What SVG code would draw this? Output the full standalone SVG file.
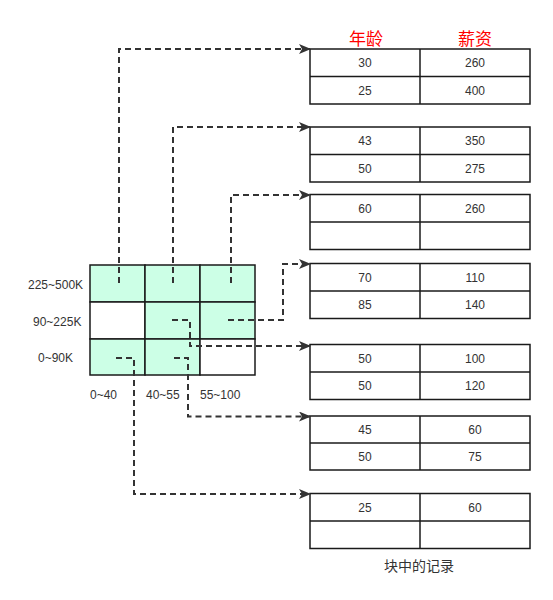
<svg xmlns="http://www.w3.org/2000/svg" width="553" height="600" viewBox="0 0 553 600">
<defs>
<style>
.cell{stroke:#1a1a1a;stroke-width:1.5}
.g{fill:#ccffe6}
.w{fill:#ffffff}
.tb{fill:#ffffff;stroke:#1a1a1a;stroke-width:1.5}
.ln{stroke:#1a1a1a;stroke-width:1.5}
.t{font-family:"Liberation Sans",Arial,sans-serif;font-size:12px;fill:#333333;text-anchor:middle}
.lab{font-family:"Liberation Sans",Arial,sans-serif;font-size:12px;fill:#333333}
.hd{font-family:"Noto Sans CJK SC",sans-serif;font-size:17px;fill:#ff0000;text-anchor:middle}
.cap{font-family:"Noto Sans CJK SC",sans-serif;font-size:14px;fill:#333333;text-anchor:middle}
.c{fill:none;stroke:#333333;stroke-width:2;stroke-dasharray:6 4;marker-end:url(#ah)}
</style>
<marker id="ah" viewBox="0 0 12 10" refX="11" refY="5" markerWidth="12" markerHeight="10" orient="auto" markerUnits="userSpaceOnUse">
<path d="M0,0 L12,5 L0,10 L3,5 Z" fill="#333333"/>
</marker>
</defs>
<rect width="553" height="600" fill="#ffffff"/>

<g id="grid">
<rect class="cell g" x="90" y="265" width="55" height="37"/>
<rect class="cell g" x="145" y="265" width="55" height="37"/>
<rect class="cell g" x="200" y="265" width="55" height="37"/>
<rect class="cell w" x="90" y="302" width="55" height="37"/>
<rect class="cell g" x="145" y="302" width="55" height="37"/>
<rect class="cell g" x="200" y="302" width="55" height="37"/>
<rect class="cell g" x="90" y="339" width="55" height="36"/>
<rect class="cell g" x="145" y="339" width="55" height="36"/>
<rect class="cell w" x="200" y="339" width="55" height="36"/>
</g>

<g id="axis-labels">
<text class="lab" x="28" y="289">225~500K</text>
<text class="lab" x="33" y="326">90~225K</text>
<text class="lab" x="38" y="362">0~90K</text>
<text class="lab" x="90" y="399">0~40</text>
<text class="lab" x="146" y="399">40~55</text>
<text class="lab" x="200" y="399">55~100</text>
</g>

<g id="headers">
<text class="hd" x="366" y="45">年龄</text>
<text class="hd" x="475" y="45">薪资</text>
</g>

<g id="table1">
<rect class="tb" x="310" y="49" width="220" height="55"/>
<line class="ln" x1="310" y1="76.5" x2="530" y2="76.5"/>
<line class="ln" x1="420" y1="49" x2="420" y2="104"/>
<text class="t" x="365" y="67">30</text><text class="t" x="475" y="67">260</text>
<text class="t" x="365" y="95">25</text><text class="t" x="475" y="95">400</text>
</g>
<g id="table2">
<rect class="tb" x="310" y="127" width="220" height="55"/>
<line class="ln" x1="310" y1="154.5" x2="530" y2="154.5"/>
<line class="ln" x1="420" y1="127" x2="420" y2="182"/>
<text class="t" x="365" y="145">43</text><text class="t" x="475" y="145">350</text>
<text class="t" x="365" y="173">50</text><text class="t" x="475" y="173">275</text>
</g>
<g id="table3">
<rect class="tb" x="310" y="194.5" width="220" height="55"/>
<line class="ln" x1="310" y1="222" x2="530" y2="222"/>
<line class="ln" x1="420" y1="194.5" x2="420" y2="249.5"/>
<text class="t" x="365" y="213">60</text><text class="t" x="475" y="213">260</text>
</g>
<g id="table4">
<rect class="tb" x="310" y="263.5" width="220" height="55"/>
<line class="ln" x1="310" y1="291" x2="530" y2="291"/>
<line class="ln" x1="420" y1="263.5" x2="420" y2="318.5"/>
<text class="t" x="365" y="282">70</text><text class="t" x="475" y="282">110</text>
<text class="t" x="365" y="309">85</text><text class="t" x="475" y="309">140</text>
</g>
<g id="table5">
<rect class="tb" x="310" y="344.5" width="220" height="55"/>
<line class="ln" x1="310" y1="372" x2="530" y2="372"/>
<line class="ln" x1="420" y1="344.5" x2="420" y2="399.5"/>
<text class="t" x="365" y="363">50</text><text class="t" x="475" y="363">100</text>
<text class="t" x="365" y="390">50</text><text class="t" x="475" y="390">120</text>
</g>
<g id="table6">
<rect class="tb" x="310" y="416" width="220" height="54"/>
<line class="ln" x1="310" y1="443" x2="530" y2="443"/>
<line class="ln" x1="420" y1="416" x2="420" y2="470"/>
<text class="t" x="365" y="434">45</text><text class="t" x="475" y="434">60</text>
<text class="t" x="365" y="461">50</text><text class="t" x="475" y="461">75</text>
</g>
<g id="table7">
<rect class="tb" x="310" y="493.5" width="220" height="55"/>
<line class="ln" x1="310" y1="521" x2="530" y2="521"/>
<line class="ln" x1="420" y1="493.5" x2="420" y2="548.5"/>
<text class="t" x="365" y="512">25</text><text class="t" x="475" y="512">60</text>
</g>

<g id="caption">
<text class="cap" x="419" y="571">块中的记录</text>
</g>

<g id="connectors">
<path class="c" d="M119,283 V49 H310"/>
<path class="c" d="M173,283 V127 H310"/>
<path class="c" d="M231,283 V195 H310"/>
<path class="c" d="M228,320 H283 V264 H310"/>
<path class="c" d="M172,320 H190 V346 H310"/>
<path class="c" d="M174,358 H188 V416.5 H310"/>
<path class="c" d="M116,358 H134 V494 H310"/>
</g>
</svg>
